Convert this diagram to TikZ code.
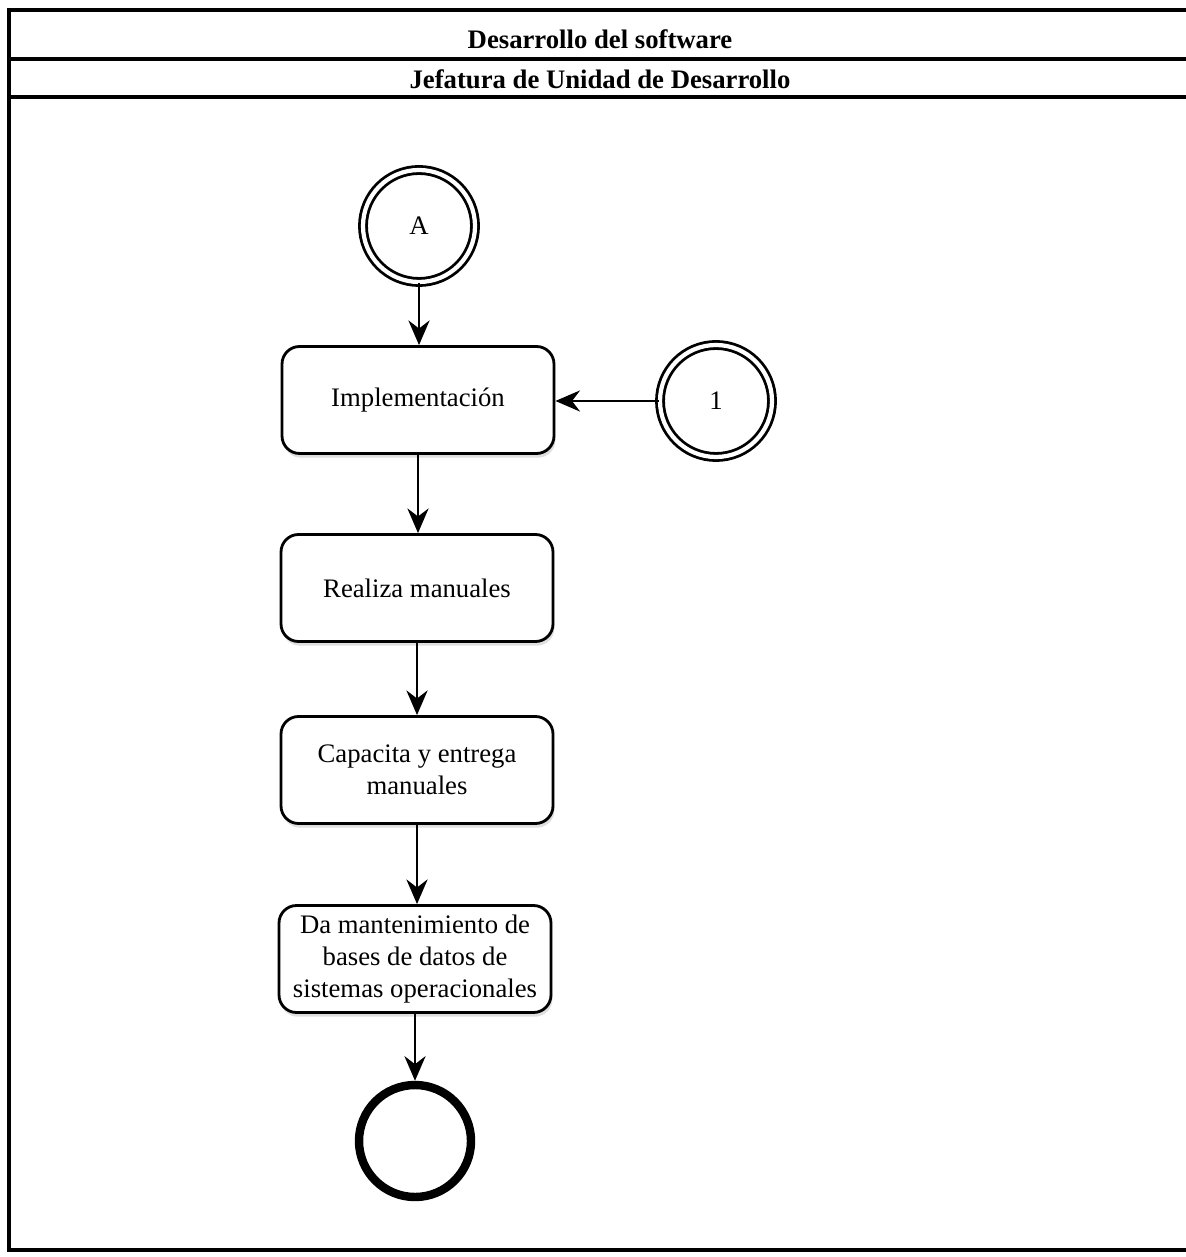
\documentclass[tikz,border=0pt]{standalone}
\usepackage{fontspec}
\setmainfont{Liberation Serif}
\usetikzlibrary{arrows.meta,shadows}
\tikzset{
  tarea/.style={draw, thick, rounded corners=5pt, fill=white, minimum width=2.72cm,
    minimum height=1.07cm, align=center, inner sep=1pt,
    drop shadow={shadow xshift=0.4pt, shadow yshift=-1.2pt, opacity=0.25}},
  conector/.style={draw, thick, double, double distance=1.2pt, circle, fill=white,
    minimum size=1.12cm, inner sep=0pt},
  fin/.style={draw, line width=2.4pt, circle, fill=white, minimum size=1.12cm, inner sep=0pt},
  flecha/.style={thick, -{Stealth[length=7pt, width=6pt]}}
}
\begin{document}
\begin{tikzpicture}[font=\fontsize{7.6}{9}\selectfont]
\useasboundingbox (0,0) rectangle (11.85,-12.57);
% Frame and headers
\draw[line width=1pt] (0.09,-0.10) rectangle (11.92,-12.50);
\draw[line width=1pt] (0.09,-0.59) -- (11.92,-0.59);
\draw[line width=1pt] (0.09,-0.97) -- (11.92,-0.97);
\node[font=\fontsize{7.6}{9}\selectfont\bfseries] (proceso) at (6.00,-0.39) {Desarrollo del software};
\node[font=\fontsize{7.6}{9}\selectfont\bfseries] (unidad) at (6.00,-0.79) {Jefatura de Unidad de Desarrollo};
% Connectors
\node[conector] (A) at (4.19,-2.26) {A};
\node[conector] (uno) at (7.16,-4.01) {1};
% Tasks
\node[tarea] (impl) at (4.18,-4.00) {Implementación};
\node[tarea] (manuales) at (4.17,-5.88) {Realiza manuales};
\node[tarea] (capacita) at (4.17,-7.70) {Capacita y entrega\\manuales};
\node[tarea] (mant) at (4.15,-9.59) {Da mantenimiento de\\bases de datos de\\sistemas operacionales};
% End
\node[fin] (final) at (4.15,-11.41) {};
% Arrows
\draw[flecha] (A) -- (A |- impl.north);
\draw[flecha] (uno) -- (uno -| impl.east);
\draw[flecha] (impl) -- (impl |- manuales.north);
\draw[flecha] (manuales) -- (manuales |- capacita.north);
\draw[flecha] (capacita) -- (capacita |- mant.north);
\draw[flecha] (mant) -- (final);
\end{tikzpicture}
\end{document}
